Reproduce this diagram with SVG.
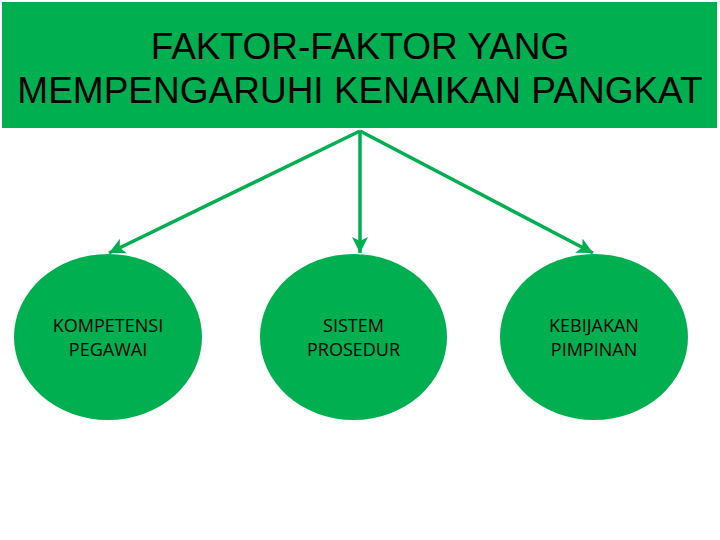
<svg xmlns="http://www.w3.org/2000/svg" width="720" height="540" viewBox="0 0 720 540">
  <style>
    .box { fill: #00B050; }
    .title { font-family: "Liberation Sans", Arial, sans-serif; font-size: 37px; fill: #000; text-anchor: middle; }
    .node { fill: #00B050; }
    .label { font-family: "Open Sans", "Liberation Sans", sans-serif; font-size: 18px; fill: #000; text-anchor: middle; }
    .conn { stroke: #00B050; stroke-width: 3.5; fill: none; marker-end: url(#arrow); }
  </style>
  <defs>
    <marker id="arrow" markerUnits="userSpaceOnUse" markerWidth="18" markerHeight="18" viewBox="0 0 18 18" refX="16" refY="9" orient="auto">
      <path d="M0,1 L16,9 L0,17 L4,9 Z" fill="#00B050"/>
    </marker>
  </defs>
  <rect width="720" height="540" fill="#fff"/>
  <g id="header">
    <rect class="box" x="2" y="2" width="715" height="126"/>
    <text class="title" x="360" y="59">FAKTOR-FAKTOR YANG</text>
    <text class="title" x="360" y="103">MEMPENGARUHI KENAIKAN PANGKAT</text>
  </g>
  <g id="connectors">
    <line class="conn" x1="360" y1="131" x2="109" y2="253"/>
    <line class="conn" x1="360" y1="131" x2="360" y2="253"/>
    <line class="conn" x1="360" y1="131" x2="593" y2="253"/>
  </g>
  <g id="node-kompetensi">
    <ellipse class="node" cx="108" cy="337" rx="94" ry="83"/>
    <text class="label" x="108" y="332">KOMPETENSI</text>
    <text class="label" x="108" y="356">PEGAWAI</text>
  </g>
  <g id="node-sistem">
    <ellipse class="node" cx="353.5" cy="337" rx="93.5" ry="83"/>
    <text class="label" x="353.5" y="332">SISTEM</text>
    <text class="label" x="353.5" y="356">PROSEDUR</text>
  </g>
  <g id="node-kebijakan">
    <ellipse class="node" cx="594" cy="337" rx="94" ry="83"/>
    <text class="label" x="594" y="332">KEBIJAKAN</text>
    <text class="label" x="594" y="356">PIMPINAN</text>
  </g>
</svg>
